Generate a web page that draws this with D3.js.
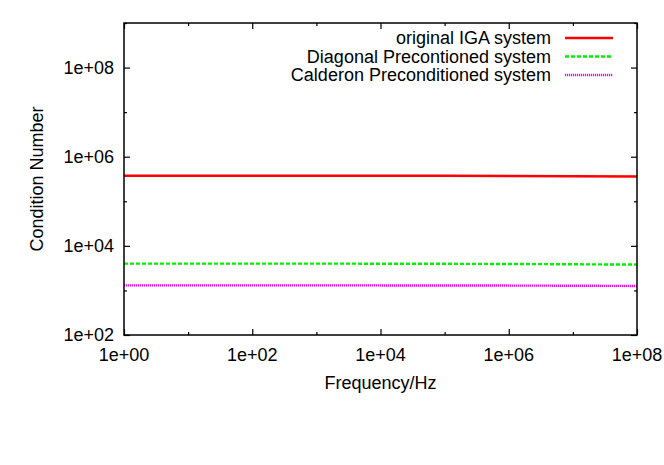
<!DOCTYPE html>
<html><head><meta charset="utf-8">
<script src="https://cdn.jsdelivr.net/npm/d3@7"></script>
<style>body{margin:0;background:#fff}svg{display:block}text{font-family:"Liberation Sans",Arial,sans-serif;font-size:18px;fill:#000}</style>
</head><body><svg id="c" width="664" height="465"></svg>
<script>
const freqs = [1e0,1e1,1e2,1e3,1e4,1e5,1e6,1e7,1e8];
const original = [3.76e5,3.76e5,3.76e5,3.76e5,3.75e5,3.74e5,3.7e5,3.65e5,3.58e5];
const diagonal = [4000,4000,4000,3990,3980,3960,3920,3860,3800];
const calderon = [1300,1300,1300,1300,1295,1290,1285,1275,1260];
const xTicks = [1e0,1e2,1e4,1e6,1e8];
const yTicks = [1e2,1e4,1e6,1e8];
const seriesNames = ["original IGA system","Diagonal Precontioned system","Calderon Preconditioned system"];
const colors = ["#ff0000","#00ee00","#ff00ff"];
const dashes = [null,"4,2","1.2,0.8"];

const svg = d3.select("#c");
const L=124,R=637,T=23,B=335;
const x = d3.scaleLog().domain([1,1e8]).range([L,R]);
const y = d3.scaleLog().domain([1e2,1e9]).range([B,T]);
const fmt = d => "1e+" + String(Math.round(Math.log10(d))).padStart(2,"0");

const minorX = d3.range(0,9).map(i=>Math.pow(10,i)).filter(v=>!xTicks.includes(v));
const minorY = d3.range(2,10).map(i=>Math.pow(10,i)).filter(v=>!yTicks.includes(v));

const g = svg.append("g");
function ticks(axisFn, pos, vals, len){
  const a = g.append("g").attr("transform",pos).call(axisFn.tickValues(vals).tickSize(len).tickFormat(""));
  a.select(".domain").remove();
  a.selectAll("line").attr("stroke","#000").attr("stroke-width",1.2);
}
ticks(d3.axisTop(x), `translate(0,${B})`, xTicks, 6);
ticks(d3.axisTop(x), `translate(0,${B})`, minorX, 3);
ticks(d3.axisBottom(x), `translate(0,${T})`, xTicks, 6);
ticks(d3.axisBottom(x), `translate(0,${T})`, minorX, 3);
ticks(d3.axisRight(y), `translate(${L},0)`, yTicks, 6);
ticks(d3.axisRight(y), `translate(${L},0)`, minorY, 3);
ticks(d3.axisLeft(y), `translate(${R},0)`, yTicks, 6);
ticks(d3.axisLeft(y), `translate(${R},0)`, minorY, 3);

// labels
g.selectAll(".xl").data(xTicks).enter().append("text").attr("x",d=>x(d)).attr("y",B+26)
  .attr("text-anchor","middle").text(fmt);
g.selectAll(".yl").data(yTicks).enter().append("text").attr("x",L-10).attr("y",d=>y(d)+6)
  .attr("text-anchor","end").text(fmt);
svg.append("text").attr("x",(L+R)/2).attr("y",389).attr("text-anchor","middle").text("Frequency/Hz");
svg.append("text").attr("transform",`translate(43,${(T+B)/2}) rotate(-90)`).attr("text-anchor","middle").text("Condition Number");

const data = [original,diagonal,calderon];
const line = d3.line().x((d,i)=>x(freqs[i])).y(d=>y(d));
data.forEach((s,k)=>{
  const p = svg.append("path").datum(s).attr("d",line).attr("fill","none")
    .attr("stroke",colors[k]).attr("stroke-width",k==0?2.5:2.4);
  if(dashes[k]) p.attr("stroke-dasharray",dashes[k]);
});

// frame
svg.append("rect").attr("x",L).attr("y",T).attr("width",R-L).attr("height",B-T)
  .attr("fill","none").attr("stroke","#000").attr("stroke-width",1.5);

// legend
seriesNames.forEach((n,k)=>{
  const yy = 38 + k*18.5;
  svg.append("text").attr("x",551).attr("y",yy+6).attr("text-anchor","end").text(n);
  const l = svg.append("line").attr("x1",565).attr("x2",613).attr("y1",yy).attr("y2",yy)
    .attr("stroke",colors[k]).attr("stroke-width",k==0?2.5:2.4);
  if(dashes[k]) l.attr("stroke-dasharray",dashes[k]);
});
</script></body></html>
